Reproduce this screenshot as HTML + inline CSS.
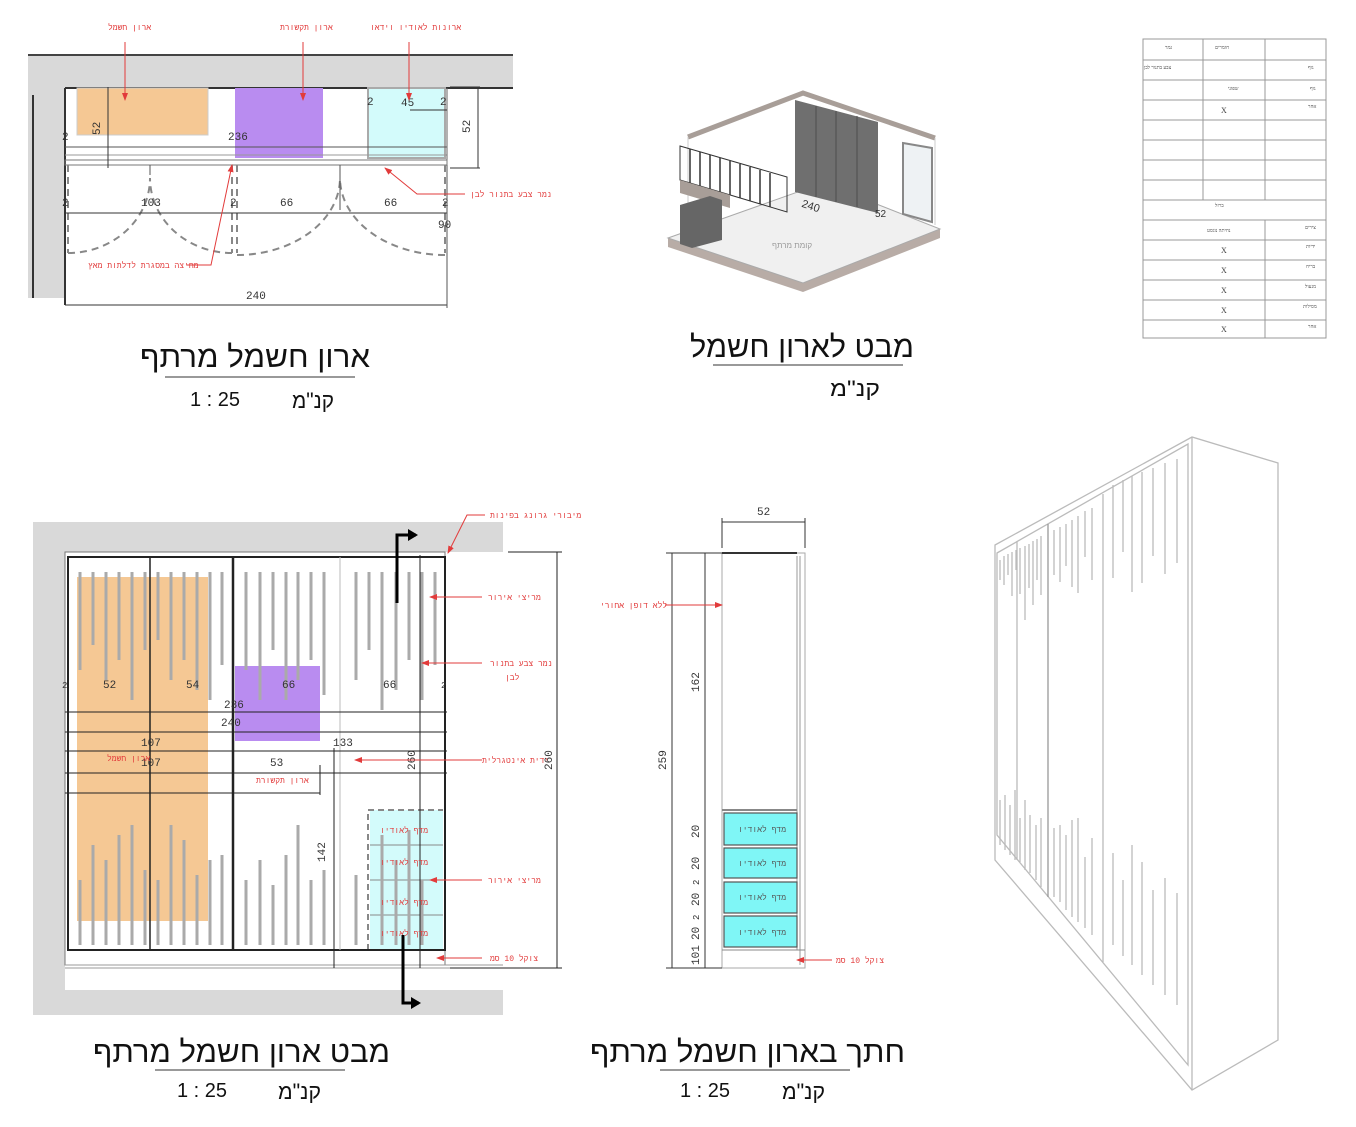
<!DOCTYPE html>
<html><head><meta charset="utf-8"><style>
html,body{margin:0;padding:0;background:#fff;}
svg{display:block;}
.r{fill:#e23b3b;font-family:"Liberation Mono","Noto Sans CJK JP",monospace;font-size:8px;}
.d{fill:#333;font-family:"Liberation Mono",monospace;font-size:11px;}
.t{fill:#111;font-family:"Liberation Sans","Noto Sans CJK JP",sans-serif;}
.s{stroke:#aaa;stroke-width:3;}
.p{stroke:#bbb;stroke-width:1.3;}
</style></head><body>
<svg width="1356" height="1127" viewBox="0 0 1356 1127" xmlns="http://www.w3.org/2000/svg">
<defs>
<marker id="ar" markerWidth="8" markerHeight="6" refX="7" refY="3" orient="auto"><path d="M0,0 L8,3 L0,6 z" fill="#e23b3b"/></marker>
<marker id="bk" markerUnits="userSpaceOnUse" markerWidth="10" markerHeight="12" refX="8" refY="6" orient="auto"><path d="M0,0 L10,6 L0,12 z" fill="#000"/></marker>
</defs>

<!-- ===== TOP LEFT PLAN ===== -->
<rect x="28" y="55" width="485" height="33" fill="#d9d9d9"/>
<rect x="28" y="88" width="37" height="210" fill="#d9d9d9"/>
<line x1="28" y1="55" x2="513" y2="55" stroke="#444" stroke-width="2"/>
<line x1="65" y1="88" x2="513" y2="88" stroke="#333" stroke-width="2"/>
<line x1="33" y1="95" x2="33" y2="298" stroke="#333" stroke-width="2"/>
<line x1="65" y1="88" x2="65" y2="305" stroke="#333" stroke-width="2"/>
<rect x="77" y="88" width="131" height="47" fill="#f5c894" stroke="#ccc"/>
<rect x="235" y="88" width="88" height="70" fill="#b98cf0"/>
<rect x="368" y="88" width="77" height="70" fill="#d3fbfb" stroke="#aaa" stroke-width="2"/>
<line x1="65" y1="147" x2="447" y2="147" stroke="#555"/>
<line x1="65" y1="155" x2="447" y2="155" stroke="#999"/>
<line x1="447" y1="88" x2="447" y2="165" stroke="#666"/>
<rect x="65" y="160" width="382" height="5" fill="none" stroke="#777"/>
<line x1="410" y1="110" x2="447" y2="110" stroke="#333"/>
<line x1="108" y1="87" x2="108" y2="168" stroke="#333"/>
<line x1="450" y1="87" x2="480" y2="87" stroke="#333"/>
<line x1="450" y1="168" x2="480" y2="168" stroke="#333"/>
<line x1="478" y1="87" x2="478" y2="168" stroke="#333"/>
<text class="d" transform="translate(470,133) rotate(-90)">52</text>
<text class="d" transform="translate(100,135) rotate(-90)">52</text>
<text class="d" x="228" y="140">236</text>
<text class="d" x="401" y="106">45</text>
<text class="d" x="367" y="105" font-size="9">2</text>
<text class="d" x="440" y="105" font-size="9">2</text>
<text class="d" x="62" y="140" font-size="9">2</text>
<g fill="none" stroke="#888" stroke-width="2" stroke-dasharray="7,5">
<path d="M68,165 L68,253 M232,165 L232,253 M237,165 L237,253 M445,165 L445,253"/>
<path d="M68,253 A82,75 0 0 0 150,178"/>
<path d="M232,253 A82,75 0 0 1 150,178"/>
<path d="M237,255 A103,77 0 0 0 340,178"/>
<path d="M445,255 A105,77 0 0 1 340,178"/>
</g>
<line x1="340" y1="165" x2="340" y2="210" stroke="#555"/>
<line x1="150" y1="165" x2="150" y2="175" stroke="#555"/>
<line x1="65" y1="213" x2="447" y2="213" stroke="#333"/>
<text class="d" x="141" y="206">103</text>
<text class="d" x="280" y="206">66</text>
<text class="d" x="384" y="206">66</text>
<text class="d" x="62" y="206" font-size="9">2</text>
<text class="d" x="230" y="206" font-size="9">2</text>
<text class="d" x="442" y="206" font-size="9">2</text>
<text class="d" x="438" y="228">90</text>
<line x1="65" y1="305" x2="447" y2="305" stroke="#333"/>
<line x1="447" y1="165" x2="447" y2="308" stroke="#555"/>
<text class="d" x="246" y="299">240</text>
<text class="r" x="108" y="30">ארון חשמל</text>
<text class="r" x="280" y="30">ארון תקשורת</text>
<text class="r" x="370" y="30">ארונות לאודיו וידאו</text>
<line x1="125" y1="42" x2="125" y2="100" stroke="#e23b3b" marker-end="url(#ar)"/>
<line x1="303" y1="42" x2="303" y2="100" stroke="#e23b3b" marker-end="url(#ar)"/>
<line x1="409" y1="42" x2="409" y2="100" stroke="#e23b3b" marker-end="url(#ar)"/>
<polyline points="465,194 417,194 385,168" fill="none" stroke="#e23b3b" marker-end="url(#ar)"/>
<text class="r" x="470" y="197">נמר צבע בתנור לבן</text>
<polyline points="187,265 211,265 232,165" fill="none" stroke="#e23b3b" marker-end="url(#ar)"/>
<text class="r" x="88" y="268">מחיצה במסגרת לדלתות מאץ</text>

<text class="t" x="140" y="367" font-size="30" textLength="230" lengthAdjust="spacingAndGlyphs">ארון חשמל מרתף</text>
<line x1="165" y1="377" x2="355" y2="377" stroke="#333"/>
<text class="t" x="190" y="406" font-size="20">1 : 25</text>
<text class="t" x="292" y="408" font-size="22" textLength="42" lengthAdjust="spacingAndGlyphs">קנ"מ</text>

<!-- ===== 3D VIEW ===== -->
<polygon points="668,238 803,283 940,229 940,238 803,292 668,247" fill="#b8aca6"/>
<polygon points="668,238 823,183 940,229 803,283" fill="#f0f0f0" stroke="#aaa"/>
<polyline points="688,137 803,93 935,138" fill="none" stroke="#a89e98" stroke-width="5"/>
<line x1="688" y1="137" x2="688" y2="225" stroke="#ccc"/>
<line x1="935" y1="138" x2="935" y2="225" stroke="#ccc"/>
<polygon points="795,100 878,122 878,213 795,192" fill="#6f6f6f"/>
<g stroke="#4c4c4c" stroke-width="1">
<line x1="816" y1="106" x2="816" y2="197"/><line x1="836" y1="111" x2="836" y2="202"/><line x1="857" y1="116" x2="857" y2="207"/>
</g>
<polygon points="680,146 787,177 787,212 680,180" fill="none" stroke="#333"/>
<g stroke="#333" stroke-width="1.5">
<line x1="690" y1="149" x2="690" y2="183"/><line x1="700" y1="152" x2="700" y2="186"/><line x1="710" y1="155" x2="710" y2="189"/><line x1="720" y1="158" x2="720" y2="192"/><line x1="730" y1="161" x2="730" y2="195"/><line x1="740" y1="164" x2="740" y2="198"/><line x1="750" y1="167" x2="750" y2="201"/><line x1="760" y1="170" x2="760" y2="204"/><line x1="770" y1="173" x2="770" y2="207"/>
</g>
<polygon points="680,180 730,195 730,208 680,193" fill="#a89e98"/>
<polygon points="680,205 710,196 722,200 722,240 692,248 680,244" fill="#666"/>
<polygon points="903,143 932,148 932,222 903,214" fill="#eef2f4" stroke="#888" stroke-width="2"/>
<text x="772" y="248" font-size="8" fill="#999" font-family="Liberation Sans,Noto Sans CJK JP,sans-serif">קומת מרתף</text>
<text x="802" y="210" font-size="11" fill="#333" font-family="Liberation Sans" transform="rotate(18 812 205)">240</text>
<text x="875" y="217" font-size="10" fill="#333" font-family="Liberation Sans">52</text>

<text class="t" x="690" y="357" font-size="30" textLength="224" lengthAdjust="spacingAndGlyphs">מבט לארון חשמל</text>
<line x1="713" y1="365" x2="903" y2="365" stroke="#333"/>
<text class="t" x="830" y="396" font-size="22" textLength="50" lengthAdjust="spacingAndGlyphs">קנ"מ</text>

<!-- ===== TABLE ===== -->
<g stroke="#999" stroke-width="1" fill="none">
<rect x="1143" y="39" width="183" height="299"/>
<line x1="1203" y1="39" x2="1203" y2="200"/><line x1="1265" y1="39" x2="1265" y2="200"/>
<line x1="1265" y1="220" x2="1265" y2="338"/>
<line x1="1143" y1="60" x2="1326" y2="60"/><line x1="1143" y1="80" x2="1326" y2="80"/><line x1="1143" y1="100" x2="1326" y2="100"/><line x1="1143" y1="120" x2="1326" y2="120"/><line x1="1143" y1="140" x2="1326" y2="140"/><line x1="1143" y1="160" x2="1326" y2="160"/><line x1="1143" y1="180" x2="1326" y2="180"/><line x1="1143" y1="200" x2="1326" y2="200"/><line x1="1143" y1="220" x2="1326" y2="220"/><line x1="1143" y1="240" x2="1326" y2="240"/><line x1="1143" y1="260" x2="1326" y2="260"/><line x1="1143" y1="280" x2="1326" y2="280"/><line x1="1143" y1="300" x2="1326" y2="300"/><line x1="1143" y1="320" x2="1326" y2="320"/>
</g>
<g font-family="Liberation Serif,Noto Sans CJK JP,serif" font-size="5" fill="#444">
<text x="1165" y="49">גמר</text><text x="1215" y="49">חומרים</text>
<text x="1144" y="69">צבע בתנור לבן</text><text x="1308" y="69">גוף</text>
<text x="1228" y="90">שפוני</text><text x="1310" y="90">גוף</text>
<text x="1221" y="113" font-size="8">X</text><text x="1308" y="108">אחר</text>
<text x="1215" y="207">ברזל</text>
<text x="1305" y="229">צירים</text><text x="1207" y="232">נחיתה נוגסט</text>
<text x="1221" y="253" font-size="8">X</text><text x="1306" y="248">ידיות</text>
<text x="1221" y="273" font-size="8">X</text><text x="1306" y="268">בריח</text>
<text x="1221" y="293" font-size="8">X</text><text x="1305" y="288">מנעול</text>
<text x="1221" y="313" font-size="8">X</text><text x="1303" y="308">מסילות</text>
<text x="1221" y="332" font-size="8">X</text><text x="1308" y="328">אחר</text>
</g>

<!-- ===== BOTTOM LEFT ELEVATION ===== -->
<rect x="33" y="522" width="470" height="493" fill="#d9d9d9"/>
<rect x="65" y="552" width="438" height="438" fill="#fff"/>
<rect x="65" y="552" width="380" height="413" fill="none" stroke="#777"/>
<line x1="65" y1="965" x2="503" y2="965" stroke="#999"/>
<line x1="65" y1="968" x2="503" y2="968" stroke="#999"/>
<rect x="77" y="577" width="131" height="344" fill="#f5c894"/>
<rect x="235" y="666" width="85" height="75" fill="#b98cf0"/>
<rect x="370" y="810" width="73" height="140" fill="#d3fbfb"/>
<g stroke="#888" stroke-width="1"><line x1="370" y1="845" x2="443" y2="845"/><line x1="370" y1="880" x2="443" y2="880"/><line x1="370" y1="915" x2="443" y2="915"/></g>
<path d="M368,950 L368,810 L443,810" fill="none" stroke="#888" stroke-width="2" stroke-dasharray="6,4"/>
<g class="s">
<line x1="80" y1="572" x2="80" y2="670"/><line x1="93" y1="572" x2="93" y2="645"/><line x1="106" y1="572" x2="106" y2="680"/><line x1="119" y1="572" x2="119" y2="660"/><line x1="132" y1="572" x2="132" y2="700"/><line x1="145" y1="572" x2="145" y2="650"/>
<line x1="158" y1="572" x2="158" y2="640"/><line x1="171" y1="572" x2="171" y2="680"/><line x1="184" y1="572" x2="184" y2="660"/><line x1="197" y1="572" x2="197" y2="690"/><line x1="210" y1="572" x2="210" y2="700"/><line x1="222" y1="572" x2="222" y2="665"/>
<line x1="246" y1="572" x2="246" y2="670"/><line x1="260" y1="572" x2="260" y2="700"/><line x1="273" y1="572" x2="273" y2="650"/><line x1="286" y1="572" x2="286" y2="700"/><line x1="298" y1="572" x2="298" y2="680"/><line x1="311" y1="572" x2="311" y2="660"/><line x1="324" y1="572" x2="324" y2="695"/>
<line x1="356" y1="572" x2="356" y2="680"/><line x1="369" y1="572" x2="369" y2="650"/><line x1="382" y1="572" x2="382" y2="710"/><line x1="396" y1="572" x2="396" y2="690"/><line x1="409" y1="572" x2="409" y2="660"/><line x1="422" y1="572" x2="422" y2="700"/><line x1="435" y1="572" x2="435" y2="665"/>
<line x1="80" y1="880" x2="80" y2="945"/><line x1="93" y1="845" x2="93" y2="945"/><line x1="106" y1="860" x2="106" y2="945"/><line x1="119" y1="835" x2="119" y2="945"/><line x1="132" y1="825" x2="132" y2="945"/><line x1="145" y1="870" x2="145" y2="945"/>
<line x1="158" y1="880" x2="158" y2="945"/><line x1="171" y1="825" x2="171" y2="945"/><line x1="184" y1="840" x2="184" y2="945"/><line x1="197" y1="875" x2="197" y2="945"/><line x1="210" y1="860" x2="210" y2="945"/><line x1="222" y1="855" x2="222" y2="945"/>
<line x1="246" y1="880" x2="246" y2="945"/><line x1="260" y1="860" x2="260" y2="945"/><line x1="273" y1="885" x2="273" y2="945"/><line x1="286" y1="855" x2="286" y2="945"/><line x1="298" y1="825" x2="298" y2="945"/><line x1="311" y1="880" x2="311" y2="945"/><line x1="324" y1="870" x2="324" y2="945"/>
<line x1="356" y1="875" x2="356" y2="945"/><line x1="382" y1="835" x2="382" y2="945"/><line x1="396" y1="860" x2="396" y2="945"/><line x1="409" y1="830" x2="409" y2="945"/><line x1="422" y1="880" x2="422" y2="945"/>
</g>
<rect x="68" y="557" width="377" height="393" fill="none" stroke="#222" stroke-width="2"/>
<line x1="150" y1="557" x2="150" y2="950" stroke="#222" stroke-width="1.5"/>
<line x1="233" y1="557" x2="233" y2="950" stroke="#222" stroke-width="2.5"/>
<line x1="340" y1="557" x2="340" y2="950" stroke="#bbb" stroke-width="1"/>
<g stroke="#222" stroke-width="1">
<line x1="65" y1="712" x2="447" y2="712"/><line x1="65" y1="732" x2="447" y2="732"/><line x1="65" y1="751" x2="447" y2="751"/><line x1="65" y1="773" x2="447" y2="773"/><line x1="65" y1="793" x2="235" y2="793"/><line x1="235" y1="793" x2="320" y2="793"/>
<line x1="320" y1="765" x2="320" y2="795"/>
<line x1="334" y1="748" x2="334" y2="968"/>
<line x1="420" y1="555" x2="420" y2="968"/>
<line x1="508" y1="552" x2="562" y2="552"/><line x1="557" y1="552" x2="557" y2="968"/><line x1="450" y1="968" x2="562" y2="968"/>
</g>
<g class="d">
<text x="103" y="688">52</text><text x="186" y="688">54</text><text x="282" y="688">66</text><text x="383" y="688">66</text>
<text x="224" y="708">236</text><text x="221" y="726">240</text><text x="141" y="746">107</text><text x="141" y="766">107</text>
<text x="270" y="766">53</text><text x="333" y="746">133</text>
<text x="62" y="688" font-size="9">2</text><text x="441" y="688" font-size="9">2</text>
<text transform="translate(415,770) rotate(-90)">260</text>
<text transform="translate(552,770) rotate(-90)">260</text>
<text transform="translate(325,862) rotate(-90)">142</text>
</g>
<text class="r" x="107" y="761">ארון חשמל</text>
<text class="r" x="256" y="783">ארון תקשורת</text>
<g class="r" font-size="7"><text x="380" y="833">מדף לאודיו</text><text x="380" y="865">מדף לאודיו</text><text x="380" y="905">מדף לאודיו</text><text x="380" y="936">מדף לאודיו</text></g>
<polyline points="397,603 397,535 416,535" fill="none" stroke="#000" stroke-width="3" marker-end="url(#bk)"/>
<polyline points="403,935 403,1003 419,1003" fill="none" stroke="#000" stroke-width="3" marker-end="url(#bk)"/>
<g stroke="#e23b3b" fill="none">
<polyline points="485,515 467,515 448,553" marker-end="url(#ar)"/>
<line x1="482" y1="597" x2="430" y2="597" marker-end="url(#ar)"/>
<line x1="482" y1="663" x2="422" y2="663" marker-end="url(#ar)"/>
<line x1="482" y1="760" x2="355" y2="760" marker-end="url(#ar)"/>
<line x1="482" y1="880" x2="430" y2="880" marker-end="url(#ar)"/>
<line x1="482" y1="958" x2="437" y2="958" marker-end="url(#ar)"/>
</g>
<g class="r">
<text x="490" y="518">מיבורי גרונג בפינות</text>
<text x="488" y="600">מריצי אירור</text>
<text x="490" y="666">נמר צבע בתנור</text><text x="505" y="680">לבן</text>
<text x="482" y="763">ידית אינטגרלית</text>
<text x="488" y="883">מריצי אירור</text>
<text x="490" y="961">צוקל 10 סמ</text>
</g>
<text class="t" x="93" y="1062" font-size="30" textLength="297" lengthAdjust="spacingAndGlyphs">מבט ארון חשמל מרתף</text>
<line x1="155" y1="1070" x2="345" y2="1070" stroke="#333"/>
<text class="t" x="177" y="1097" font-size="20">1 : 25</text>
<text class="t" x="278" y="1099" font-size="22" textLength="43" lengthAdjust="spacingAndGlyphs">קנ"מ</text>

<!-- ===== SECTION ===== -->
<rect x="722" y="553" width="83" height="415" fill="#fff" stroke="#aaa"/>
<line x1="722" y1="553" x2="797" y2="553" stroke="#333" stroke-width="2"/>
<line x1="797" y1="556" x2="797" y2="950" stroke="#999"/>
<line x1="800" y1="556" x2="800" y2="965" stroke="#999"/>
<line x1="722" y1="950" x2="805" y2="950" stroke="#888"/>
<g fill="#7ff6f6" stroke="#555" stroke-width="1.2">
<rect x="724" y="813" width="73" height="32"/><rect x="724" y="848" width="73" height="30"/><rect x="724" y="882" width="73" height="31"/><rect x="724" y="916" width="73" height="31"/>
</g>
<line x1="722" y1="810" x2="797" y2="810" stroke="#888" stroke-width="2"/>
<g class="r" style="fill:#555" font-size="7"><text x="738" y="832">מדף לאודיו</text><text x="738" y="866">מדף לאודיו</text><text x="738" y="900">מדף לאודיו</text><text x="738" y="935">מדף לאודיו</text></g>
<g stroke="#333" stroke-width="1">
<line x1="722" y1="522" x2="805" y2="522"/><line x1="722" y1="518" x2="722" y2="548"/><line x1="805" y1="518" x2="805" y2="548"/>
<line x1="666" y1="553" x2="722" y2="553"/><line x1="666" y1="968" x2="722" y2="968"/>
<line x1="672" y1="553" x2="672" y2="968"/><line x1="705" y1="553" x2="705" y2="968"/>
</g>
<g class="d">
<text x="757" y="515">52</text>
<text transform="translate(666,770) rotate(-90)">259</text>
<text transform="translate(699,692) rotate(-90)">162</text>
<text transform="translate(699,838) rotate(-90)">20</text><text transform="translate(699,870) rotate(-90)">20</text><text transform="translate(699,906) rotate(-90)">20</text><text transform="translate(699,940) rotate(-90)">20</text>
<text transform="translate(699,965) rotate(-90)">101</text>
<text transform="translate(699,885) rotate(-90)" font-size="9">2</text><text transform="translate(699,920) rotate(-90)" font-size="9">2</text>
</g>
<line x1="665" y1="605" x2="722" y2="605" stroke="#e23b3b" marker-end="url(#ar)"/>
<text class="r" x="600" y="608">ללא דופן אחורי</text>
<line x1="832" y1="960" x2="797" y2="960" stroke="#e23b3b" marker-end="url(#ar)"/>
<text class="r" x="836" y="963">צוקל 10 סמ</text>
<text class="t" x="590" y="1062" font-size="30" textLength="315" lengthAdjust="spacingAndGlyphs">חתך בארון חשמל מרתף</text>
<line x1="660" y1="1070" x2="850" y2="1070" stroke="#333"/>
<text class="t" x="680" y="1097" font-size="20">1 : 25</text>
<text class="t" x="782" y="1099" font-size="22" textLength="43" lengthAdjust="spacingAndGlyphs">קנ"מ</text>

<!-- ===== PERSPECTIVE ===== -->
<g fill="none" stroke="#bbb" stroke-width="1.3">
<polygon points="995,545 1192,437 1278,463 1278,1040 1192,1090 995,860"/>
<line x1="1192" y1="437" x2="1192" y2="1090"/>
<polygon points="997,553 1188,444 1188,1065 997,835"/>
<line x1="1017" y1="541" x2="1017" y2="860"/>
<line x1="1048" y1="524" x2="1048" y2="897" stroke="#999"/>
<line x1="1103" y1="494" x2="1103" y2="962"/>
</g>
<g class="p" stroke-width="2">
<line x1="1000" y1="560" x2="1000" y2="580"/><line x1="1004" y1="556" x2="1004" y2="585"/><line x1="1008" y1="554" x2="1008" y2="575"/><line x1="1012" y1="552" x2="1012" y2="596"/><line x1="1016" y1="550" x2="1016" y2="570"/>
<line x1="1020" y1="548" x2="1020" y2="594"/><line x1="1025" y1="546" x2="1025" y2="620"/><line x1="1029" y1="544" x2="1029" y2="588"/><line x1="1033" y1="541" x2="1033" y2="605"/><line x1="1037" y1="539" x2="1037" y2="580"/><line x1="1041" y1="536" x2="1041" y2="595"/>
<line x1="1054" y1="530" x2="1054" y2="575"/><line x1="1060" y1="527" x2="1060" y2="582"/><line x1="1066" y1="524" x2="1066" y2="566"/><line x1="1072" y1="520" x2="1072" y2="587"/><line x1="1078" y1="516" x2="1078" y2="593"/><line x1="1085" y1="511" x2="1085" y2="557"/><line x1="1092" y1="508" x2="1092" y2="580"/>
<line x1="1113" y1="485" x2="1113" y2="578"/><line x1="1123" y1="480" x2="1123" y2="552"/><line x1="1132" y1="476" x2="1132" y2="592"/><line x1="1142" y1="472" x2="1142" y2="583"/><line x1="1153" y1="468" x2="1153" y2="556"/><line x1="1165" y1="463" x2="1165" y2="574"/><line x1="1177" y1="459" x2="1177" y2="563"/>
<line x1="1000" y1="800" x2="1000" y2="845"/><line x1="1005" y1="795" x2="1005" y2="850"/><line x1="1010" y1="805" x2="1010" y2="855"/><line x1="1015" y1="790" x2="1015" y2="860"/>
<line x1="1020" y1="818" x2="1020" y2="862"/><line x1="1025" y1="800" x2="1025" y2="870"/><line x1="1030" y1="815" x2="1030" y2="873"/><line x1="1036" y1="825" x2="1036" y2="880"/><line x1="1041" y1="818" x2="1041" y2="887"/>
<line x1="1054" y1="828" x2="1054" y2="897"/><line x1="1060" y1="825" x2="1060" y2="902"/><line x1="1066" y1="835" x2="1066" y2="910"/><line x1="1072" y1="820" x2="1072" y2="917"/><line x1="1078" y1="818" x2="1078" y2="922"/><line x1="1085" y1="857" x2="1085" y2="928"/><line x1="1092" y1="838" x2="1092" y2="935"/>
<line x1="1113" y1="853" x2="1113" y2="945"/><line x1="1123" y1="880" x2="1123" y2="956"/><line x1="1132" y1="845" x2="1132" y2="965"/><line x1="1142" y1="862" x2="1142" y2="975"/><line x1="1153" y1="890" x2="1153" y2="985"/><line x1="1165" y1="878" x2="1165" y2="995"/><line x1="1177" y1="893" x2="1177" y2="1005"/>
</g>
</svg>
</body></html>
